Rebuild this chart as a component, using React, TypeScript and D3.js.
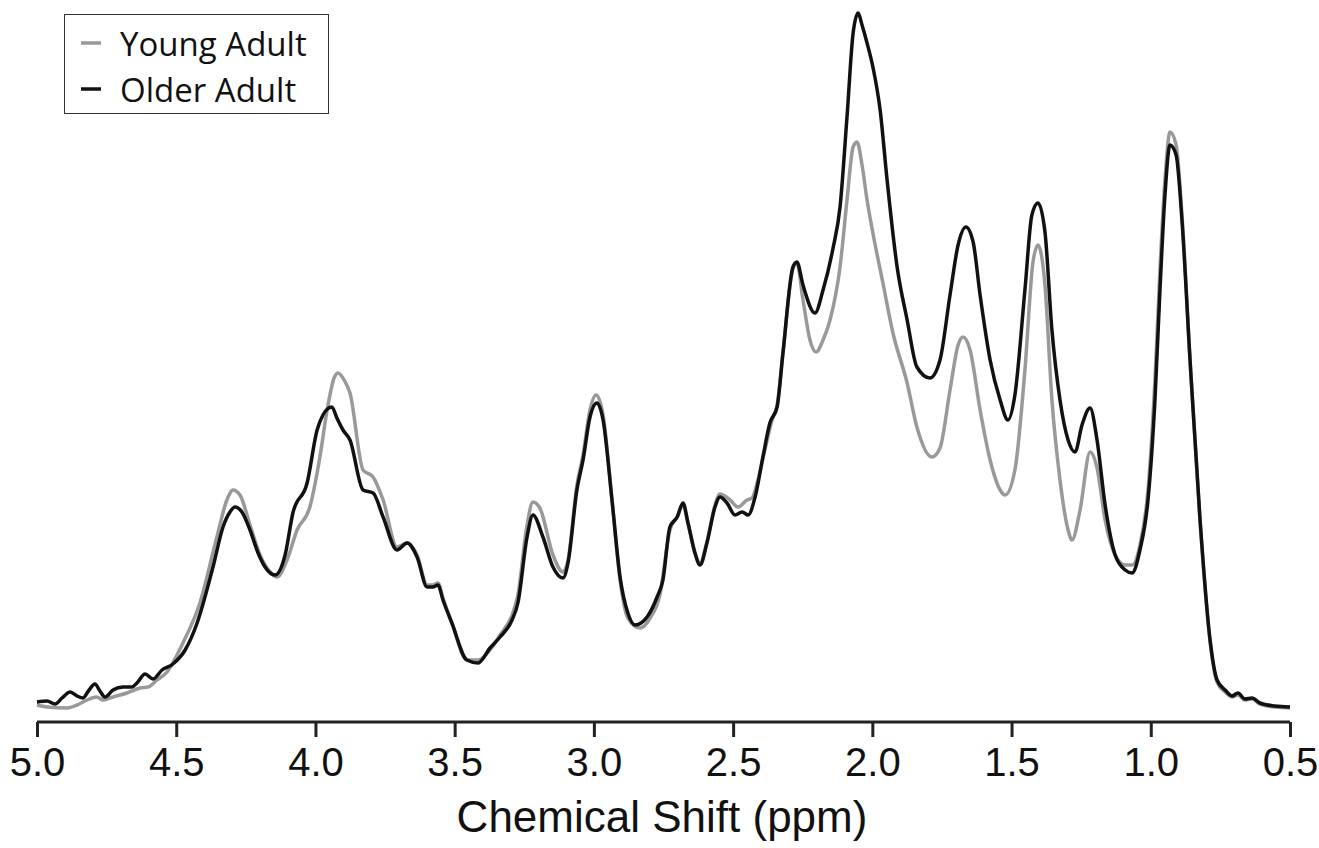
import { useEffect, useRef } from "react";
import * as d3 from "d3";

// chemical shift (ppm) and intensity (a.u.)
const olderPpm = [5.0, 4.964, 4.935, 4.91, 4.881, 4.856, 4.835, 4.813, 4.792, 4.774, 4.756, 4.727, 4.691, 4.659, 4.641, 4.612, 4.583, 4.551, 4.512, 4.468, 4.425, 4.368, 4.332, 4.307, 4.289, 4.264, 4.235, 4.206, 4.181, 4.145, 4.109, 4.081, 4.03, 3.994, 3.973, 3.941, 3.923, 3.901, 3.876, 3.829, 3.793, 3.757, 3.707, 3.671, 3.635, 3.599, 3.578, 3.56, 3.542, 3.51, 3.456, 3.416, 3.373, 3.337, 3.294, 3.273, 3.24, 3.219, 3.183, 3.147, 3.111, 3.093, 3.061, 3.039, 3.014, 2.989, 2.967, 2.935, 2.906, 2.878, 2.852, 2.809, 2.773, 2.752, 2.727, 2.701, 2.68, 2.662, 2.637, 2.619, 2.594, 2.565, 2.547, 2.522, 2.493, 2.468, 2.446, 2.421, 2.393, 2.368, 2.342, 2.321, 2.285, 2.271, 2.249, 2.206, 2.177, 2.141, 2.116, 2.091, 2.069, 2.051, 2.037, 2.019, 1.998, 1.972, 1.947, 1.911, 1.875, 1.84, 1.793, 1.757, 1.721, 1.692, 1.664, 1.638, 1.613, 1.577, 1.541, 1.513, 1.488, 1.452, 1.427, 1.405, 1.38, 1.355, 1.326, 1.297, 1.272, 1.247, 1.218, 1.193, 1.164, 1.128, 1.092, 1.067, 1.039, 1.01, 0.985, 0.967, 0.949, 0.931, 0.909, 0.888, 0.859, 0.823, 0.787, 0.762, 0.733, 0.708, 0.687, 0.662, 0.636, 0.608, 0.554, 0.5];
const olderValues = [8, 9, 6, 12, 18, 14, 12, 20, 26, 19, 13, 20, 23, 23, 27, 36, 31, 40, 46, 60, 87, 143, 183, 198, 203, 198, 180, 157, 143, 135, 155, 197, 227, 280, 295, 303, 292, 280, 270, 220, 217, 193, 160, 167, 153, 123, 123, 125, 110, 87, 50, 47, 62, 73, 90, 107, 173, 195, 173, 143, 132, 147, 220, 250, 293, 307, 290, 210, 133, 97, 85, 93, 113, 130, 183, 193, 207, 187, 157, 145, 167, 203, 213, 207, 195, 198, 195, 213, 253, 287, 303, 357, 443, 448, 425, 397, 420, 462, 503, 593, 677, 697, 685, 667, 643, 600, 530, 443, 390, 343, 332, 350, 415, 465, 483, 468, 415, 350, 310, 290, 315, 420, 495, 507, 478, 380, 310, 270, 258, 285, 302, 270, 205, 155, 140, 137, 160, 210, 310, 420, 515, 565, 555, 490, 350, 190, 70, 30, 20, 14, 17, 11, 12, 7, 4, 3];

const youngPpm = [5.0, 4.964, 4.892, 4.856, 4.82, 4.785, 4.763, 4.727, 4.677, 4.63, 4.601, 4.569, 4.533, 4.476, 4.415, 4.354, 4.318, 4.296, 4.271, 4.235, 4.199, 4.163, 4.138, 4.102, 4.066, 4.02, 3.984, 3.958, 3.933, 3.919, 3.897, 3.876, 3.829, 3.793, 3.757, 3.707, 3.671, 3.635, 3.599, 3.578, 3.56, 3.542, 3.51, 3.456, 3.416, 3.373, 3.337, 3.294, 3.273, 3.24, 3.219, 3.194, 3.147, 3.111, 3.093, 3.061, 3.039, 3.014, 2.992, 2.967, 2.935, 2.906, 2.878, 2.834, 2.798, 2.763, 2.727, 2.701, 2.68, 2.662, 2.637, 2.619, 2.594, 2.565, 2.547, 2.511, 2.482, 2.45, 2.432, 2.411, 2.386, 2.36, 2.342, 2.321, 2.285, 2.271, 2.249, 2.224, 2.202, 2.177, 2.152, 2.116, 2.091, 2.069, 2.055, 2.037, 2.019, 1.998, 1.962, 1.926, 1.875, 1.84, 1.786, 1.757, 1.721, 1.692, 1.674, 1.649, 1.613, 1.577, 1.541, 1.523, 1.488, 1.452, 1.423, 1.405, 1.38, 1.355, 1.326, 1.297, 1.283, 1.254, 1.218, 1.193, 1.164, 1.128, 1.092, 1.067, 1.039, 1.01, 0.985, 0.967, 0.949, 0.931, 0.909, 0.888, 0.859, 0.823, 0.787, 0.762, 0.733, 0.708, 0.687, 0.662, 0.636, 0.608, 0.554, 0.5];
const youngValues = [5, 3, 2, 5, 10, 13, 10, 13, 17, 22, 23, 30, 38, 67, 107, 173, 210, 220, 215, 185, 155, 138, 133, 150, 180, 203, 253, 300, 332, 337, 330, 317, 240, 233, 210, 163, 167, 155, 125, 125, 127, 112, 87, 50, 50, 60, 75, 95, 115, 185, 208, 202, 155, 138, 150, 225, 255, 300, 315, 295, 210, 130, 92, 82, 92, 115, 180, 193, 205, 187, 157, 147, 168, 205, 216, 210, 203, 210, 212, 230, 260, 290, 305, 357, 442, 447, 410, 370, 358, 370, 390, 443, 510, 563, 568, 545, 510, 477, 427, 377, 327, 283, 253, 262, 320, 365, 373, 360, 300, 250, 220, 215, 240, 340, 448, 465, 425, 310, 230, 180, 170, 200, 258, 242, 190, 155, 145, 145, 165, 220, 330, 440, 530, 578, 565, 495, 350, 188, 68, 28, 18, 13, 15, 10, 11, 6, 3, 2];

const xTicks = [5.0, 4.5, 4.0, 3.5, 3.0, 2.5, 2.0, 1.5, 1.0, 0.5];
const seriesNames = ["Young Adult", "Older Adult"];
const seriesColors = ["#999999", "#111111"];

export default function App() {
    const ref = useRef(null);

    useEffect(() => {
        const svg = d3.select(ref.current);
        svg.selectAll("*").remove();

        const xScale = d3.scaleLinear().domain([5.0, 0.5]).range([37, 1290]);
        const yScale = d3.scaleLinear().domain([0, 700]).range([710, 10]);
        const axisY = 722;

        const line = d3.line()
            .x(d => xScale(d[0]))
            .y(d => yScale(d[1]))
            .curve(d3.curveMonotoneX);

        const series = [
            d3.zip(youngPpm, youngValues),
            d3.zip(olderPpm, olderValues)
        ];

        series.forEach((pts, i) => {
            svg.append("path")
                .datum(pts)
                .attr("fill", "none")
                .attr("stroke", seriesColors[i])
                .attr("stroke-width", 3.5)
                .attr("stroke-linejoin", "round")
                .attr("d", line);
        });

        const xAxis = d3.axisBottom(xScale)
            .tickValues(xTicks)
            .tickFormat(d3.format(".1f"))
            .tickSize(15)
            .tickPadding(11);

        const gx = svg.append("g")
            .attr("transform", `translate(0, ${axisY})`)
            .call(xAxis);
        gx.select(".domain")
            .attr("stroke", "#222")
            .attr("stroke-width", 3)
            .attr("d", `M${xScale(5.0)},0H${xScale(0.5)}`);
        gx.selectAll(".tick line")
            .attr("stroke", "#222")
            .attr("stroke-width", 3);
        gx.selectAll(".tick text")
            .attr("fill", "#111")
            .style("font-family", "'Liberation Sans', Arial, sans-serif")
            .style("font-size", "40px");

        svg.append("text")
            .attr("x", 662)
            .attr("y", 832)
            .attr("text-anchor", "middle")
            .style("font-family", "'Liberation Sans', Arial, sans-serif")
            .style("font-size", "44px")
            .attr("fill", "#111")
            .text("Chemical Shift (ppm)");

        // legend
        const lg = svg.append("g");
        lg.append("rect")
            .attr("x", 64.5).attr("y", 14.5)
            .attr("width", 264).attr("height", 99)
            .attr("fill", "white")
            .attr("stroke", "#333")
            .attr("stroke-width", 1);
        seriesNames.forEach((name, i) => {
            const cy = 43 + i * 46;
            lg.append("line")
                .attr("x1", 81).attr("x2", 101)
                .attr("y1", cy).attr("y2", cy)
                .attr("stroke", seriesColors[i])
                .attr("stroke-width", 3.5);
            lg.append("text")
                .attr("x", 120)
                .attr("y", cy + 13)
                .style("font-family", "'Open Sans', 'Noto Sans', sans-serif")
                .style("font-size", "33px")
                .attr("fill", "#111")
                .text(name);
        });
    }, []);

    return (
        <svg ref={ref} width={1319} height={848}
            style={{ position: "absolute", left: 0, top: 0, background: "white" }} />
    );
}
